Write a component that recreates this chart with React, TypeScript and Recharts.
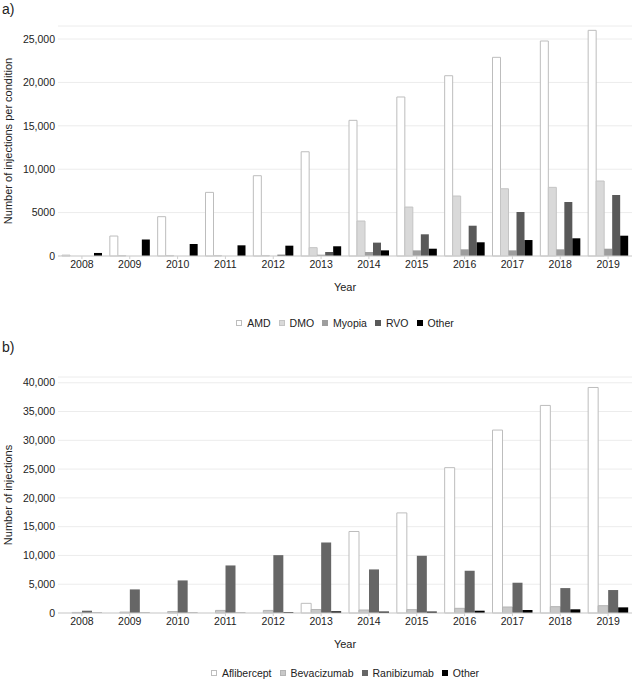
import React from 'react';
import { BarChart, Bar, XAxis, YAxis, CartesianGrid, Legend } from 'recharts';

const years = ['2008', '2009', '2010', '2011', '2012', '2013', '2014', '2015', '2016', '2017', '2018', '2019'];

// a) injections per condition
const amd = [100, 2300, 4530, 7330, 9250, 12010, 15630, 18320, 20770, 22890, 24770, 26000];
const dmo = [0, 50, 60, 60, 60, 960, 4030, 5640, 6910, 7750, 7910, 8640];
const myopia = [0, 0, 0, 0, 0, 150, 460, 650, 770, 650, 770, 840];
const rvo = [0, 0, 0, 0, 150, 460, 1540, 2500, 3490, 5070, 6220, 7030];
const otherA = [350, 1900, 1380, 1230, 1190, 1120, 650, 840, 1580, 1840, 2040, 2340];

// b) injections per drug
const aflibercept = [0, 0, 0, 0, 0, 1680, 14160, 17390, 25250, 31780, 36060, 39180];
const bevacizumab = [100, 150, 250, 450, 450, 600, 520, 580, 810, 1040, 1100, 1270];
const ranibizumab = [400, 4100, 5660, 8260, 10050, 12250, 7570, 9940, 7340, 5260, 4330, 3990];
const otherB = [50, 50, 50, 50, 150, 300, 250, 250, 400, 520, 640, 980];

const ticksA = [0, 5000, 10000, 15000, 20000, 25000];
const ticksB = [0, 5000, 10000, 15000, 20000, 25000, 30000, 35000, 40000];

const dataA = years.map((year, i) => ({
  year,
  AMD: amd[i],
  DMO: dmo[i],
  Myopia: myopia[i],
  RVO: rvo[i],
  Other: otherA[i],
}));

const dataB = years.map((year, i) => ({
  year,
  Aflibercept: aflibercept[i],
  Bevacizumab: bevacizumab[i],
  Ranibizumab: ranibizumab[i],
  Other: otherB[i],
}));

const FONT = '"Liberation Sans", Arial, Helvetica, sans-serif';
const TXT = '#222';

const seriesA = [
  { key: 'AMD', fill: '#ffffff', stroke: '#bdbdbd' },
  { key: 'DMO', fill: '#d9d9d9', stroke: '#c4c4c4' },
  { key: 'Myopia', fill: '#9e9e9e', stroke: 'none' },
  { key: 'RVO', fill: '#595959', stroke: 'none' },
  { key: 'Other', fill: '#000000', stroke: 'none' },
];

const seriesB = [
  { key: 'Aflibercept', fill: '#ffffff', stroke: '#bdbdbd' },
  { key: 'Bevacizumab', fill: '#c8c8c8', stroke: '#b4b4b4' },
  { key: 'Ranibizumab', fill: '#666666', stroke: 'none' },
  { key: 'Other', fill: '#000000', stroke: 'none' },
];

const fmtA = (v) => (v >= 10000 ? v.toLocaleString('en-US') : String(v));
const fmtB = (v) => v.toLocaleString('en-US');

const makeLegend = (series) => () => (
  <div style={{ height: 20, display: 'flex', justifyContent: 'center', alignItems: 'center', fontFamily: FONT, fontSize: 10.5, color: TXT, paddingLeft: 58 }}>
    {series.map((s) => (
      <span key={s.key} style={{ display: 'inline-flex', alignItems: 'center', margin: '0 4px' }}>
        <span style={{ display: 'inline-block', width: 6, height: 6, background: s.fill, border: `1px solid ${s.stroke === 'none' ? s.fill : s.stroke}`, marginRight: 5, boxSizing: 'border-box' }} />
        {s.key}
      </span>
    ))}
  </div>
);

const Panel = ({ tag, tagTop, data, series, ticks, domainMax, fmt, yLabel, height, xAxisHeight, yearOffset, marginTop, marginBottom }) => (
  <div style={{ position: 'relative', width: 632, height }}>
    <div style={{ position: 'absolute', left: 2, top: tagTop, fontFamily: FONT, fontSize: 14, color: TXT, zIndex: 1 }}>{tag}</div>
    <BarChart
      width={632}
      height={height}
      data={data}
      margin={{ top: marginTop, right: 0, left: 0, bottom: marginBottom }}
      barGap={0}
      barCategoryGap={4}
    >
      <CartesianGrid vertical={false} stroke="#ececec" />
      <XAxis
        dataKey="year"
        height={xAxisHeight}
        axisLine={{ stroke: '#cfcfcf' }}
        tickLine={{ stroke: '#cfcfcf' }}
        tickSize={3}
        tickMargin={2}
        tick={{ fontFamily: FONT, fontSize: 10.5, fill: TXT }}
        label={{ value: 'Year', position: 'insideBottom', offset: yearOffset, style: { fontFamily: FONT, fontSize: 11, fill: TXT } }}
      />
      <YAxis
        width={58}
        domain={[0, domainMax]}
        ticks={ticks}
        tickFormatter={fmt}
        axisLine={false}
        tickLine={false}
        tickSize={3}
        tickMargin={0}
        tick={{ fontFamily: FONT, fontSize: 10.5, fill: TXT }}
        label={{ value: yLabel, angle: -90, position: 'insideLeft', offset: 8, style: { textAnchor: 'middle', fontFamily: FONT, fontSize: 11, fill: TXT } }}
      />
      <Legend verticalAlign="bottom" content={makeLegend(series)} />
      {series.map((s) => (
        <Bar key={s.key} dataKey={s.key} fill={s.fill} stroke={s.stroke} strokeWidth={1} isAnimationActive={false} />
      ))}
    </BarChart>
  </div>
);

export default function App() {
  return (
    <div style={{ position: 'absolute', left: 0, top: 0, width: 632, height: 687, background: '#fff' }}>
      <Panel
        tag="a)"
        tagTop={1}
        data={dataA}
        series={seriesA}
        ticks={ticksA}
        domainMax={26500}
        fmt={fmtA}
        yLabel="Number of injections per condition"
        height={335}
        xAxisHeight={57}
        yearOffset={22}
        marginTop={26}
        marginBottom={2}
      />
      <div style={{ position: 'absolute', left: 0, top: 330 }}>
        <Panel
          tag="b)"
          tagTop={9}
          data={dataB}
          series={seriesB}
          ticks={ticksB}
          domainMax={41000}
          fmt={fmtB}
          yLabel="Number of injections"
          height={357}
          xAxisHeight={50}
          yearOffset={15}
          marginTop={47}
          marginBottom={4}
        />
      </div>
    </div>
  );
}
